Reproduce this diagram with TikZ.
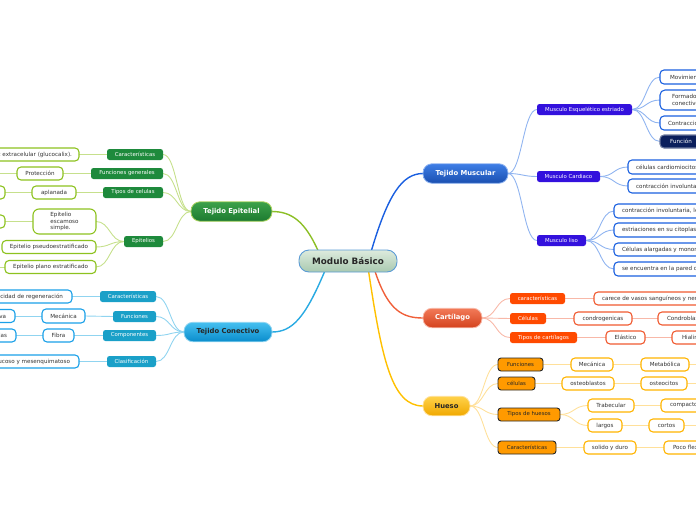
\documentclass[tikz,border=0pt]{standalone}
\usepackage{fontspec}
\setmainfont{DejaVu Sans}
\pgfdeclarelayer{bg}
\pgfsetlayers{bg,main}
\definecolor{rootborder}{HTML}{5B9BD5}
\definecolor{roottop}{HTML}{DDEBDD}
\definecolor{rootbot}{HTML}{A9C9B0}
\definecolor{epiTop}{HTML}{3DA24A}
\definecolor{epiBot}{HTML}{1C7A30}
\definecolor{epiL2}{HTML}{1E8A3C}
\definecolor{epiLeaf}{HTML}{8DC21F}
\definecolor{epiE1}{HTML}{8CBF26}
\definecolor{epiE2}{HTML}{C6E08C}
\definecolor{conTop}{HTML}{45C0F0}
\definecolor{conBot}{HTML}{0A8CCC}
\definecolor{conL2}{HTML}{1AA0C8}
\definecolor{conLeaf}{HTML}{1AA0E8}
\definecolor{conE1}{HTML}{29AAE2}
\definecolor{conE2}{HTML}{90D4F0}
\definecolor{musTop}{HTML}{3E7EE6}
\definecolor{musBot}{HTML}{1A4FB0}
\definecolor{musL2}{HTML}{3311DD}
\definecolor{musLeaf}{HTML}{1A60E0}
\definecolor{musDark}{HTML}{0B1F5C}
\definecolor{musE1}{HTML}{1A5FE0}
\definecolor{musE2}{HTML}{90B4F0}
\definecolor{carTop}{HTML}{F27A58}
\definecolor{carBot}{HTML}{D4421E}
\definecolor{carL2}{HTML}{FF4A00}
\definecolor{carLeaf}{HTML}{F05A30}
\definecolor{carE1}{HTML}{F0603A}
\definecolor{carE2}{HTML}{F8B8A8}
\definecolor{hueTop}{HTML}{FFD24A}
\definecolor{hueBot}{HTML}{F0A800}
\definecolor{hueL2}{HTML}{FF9A00}
\definecolor{hueLeaf}{HTML}{FFB400}
\definecolor{hueE1}{HTML}{FFC000}
\definecolor{hueE2}{HTML}{FFE09A}
\definecolor{txt}{HTML}{333333}
\newcommand\smallfs{\fontsize{5.4}{6.5}\selectfont}
\newcommand\leaffs{\fontsize{5.6}{6.6}\selectfont}
\newcommand\mmR[2]{\draw (#1.east) .. controls +(14,0) and +(-14,0) .. (#2.west);}
\newcommand\mmL[2]{\draw (#1.west) .. controls +(-14,0) and +(14,0) .. (#2.east);}
\begin{document}
\begin{tikzpicture}[x=1pt,y=-1pt,
  every node/.style={inner sep=0pt, outer sep=0pt},
  rootbox/.style={rounded corners=10pt, minimum width=98pt, minimum height=22pt, draw=rootborder, line width=0.9pt, top color=roottop, bottom color=rootbot, text=black!85, font=\bfseries\fontsize{8.8}{10}\selectfont},
  lone/.style={rounded corners=9pt, minimum height=19.5pt, line width=0.8pt, font=\bfseries\fontsize{6.8}{8}\selectfont},
  ltwo/.style={rounded corners=2.5pt, minimum height=11pt, font=\smallfs, text=white},
  leaf/.style={rounded corners=4pt, minimum height=13pt, fill=white, line width=1.1pt, font=\leaffs, text=txt, inner xsep=6pt},
  e1/.style={line width=1.4pt},
  e2/.style={line width=0.9pt}]
\useasboundingbox (0,0) rectangle (696,520);
\clip (0,0) rectangle (696,520);

% ---------- root ----------
\node[rootbox] (root) at (348,261) {Modulo Básico};

% ---------- level 1 ----------
\node[lone, minimum width=81pt, draw=epiLeaf!70, top color=epiTop, bottom color=epiBot, text=white] (tep) at (231.5,211.5) {Tejido Epitelial};
\node[lone, minimum width=88pt, draw=conE2, top color=conTop, bottom color=conBot, text=black!85] (tco) at (228,332) {Tejido Conectivo};
\node[lone, minimum width=85pt, draw=musE2, top color=musTop, bottom color=musBot, text=white] (tmu) at (465.5,173.5) {Tejido Muscular};
\node[lone, minimum width=59pt, draw=carE2, top color=carTop, bottom color=carBot, text=white] (car) at (452.5,318) {Cartílago};
\node[lone, minimum width=47pt, draw=hueE2, top color=hueTop, bottom color=hueBot, text=black!85] (hue) at (446.5,406) {Hueso};

% ---------- Epitelial ----------
\node[ltwo, fill=epiL2, minimum width=56pt] (e1) at (135,154.5) {Características};
\node[ltwo, fill=epiL2, minimum width=72pt] (e2) at (127,173.5) {Funciones generales};
\node[ltwo, fill=epiL2, minimum width=60pt] (e3) at (133,192.5) {Tipos de celulas};
\node[ltwo, fill=epiL2, minimum width=39pt] (e4) at (143.5,241.5) {Epitelios};
\node[leaf, draw=epiLeaf, anchor=east, inner xsep=7pt] (e1a) at (79,154.5) {Matriz extracelular (glucocalix).};
\node[leaf, draw=epiLeaf, minimum width=46pt] (e2a) at (40,173.5) {Protección};
\coordinate (e2b) at (-3,173.5);
\node[leaf, draw=epiLeaf, minimum width=44pt] (e3a) at (54,192.5) {aplanada};
\node[leaf, draw=epiLeaf, minimum width=30pt, anchor=east] (e3b) at (5,192.5) {};
\node[leaf, draw=epiLeaf, minimum width=63pt, minimum height=25pt, rounded corners=6pt, align=left] (e4a) at (64.5,221.5) {Epitelio\\escamoso\\simple.};
\node[leaf, draw=epiLeaf, minimum width=30pt, anchor=east] (e4b) at (5,221.5) {};
\node[leaf, draw=epiLeaf, minimum width=94pt] (e4c) at (49,247) {Epitelio pseudoestratificado};
\node[leaf, draw=epiLeaf, minimum width=91pt] (e4d) at (50.5,267) {Epitelio plano estratificado};
\coordinate (e4e) at (-3,267);

% ---------- Conectivo ----------
\node[ltwo, fill=conL2, minimum width=56pt] (c1) at (128,296.5) {Características};
\node[ltwo, fill=conL2, minimum width=43pt] (c2) at (134.5,316.5) {Funciones};
\node[ltwo, fill=conL2, minimum width=53pt] (c3) at (129.5,335.5) {Componentes};
\node[ltwo, fill=conL2, minimum width=49pt] (c4) at (131.5,361.5) {Clasificación};
\node[leaf, draw=conLeaf, anchor=east, inner xsep=9pt] (c1a) at (72,296.5) {Capacidad de regeneración};
\node[leaf, draw=conLeaf, minimum width=43pt, minimum height=14pt] (c2a) at (63.5,316) {Mecánica};
\node[leaf, draw=conLeaf, anchor=east, inner xsep=9pt] (c2b) at (15,316) {Defensiva};
\node[leaf, draw=conLeaf, minimum width=31pt] (c3a) at (58.5,335.5) {Fibra};
\node[leaf, draw=conLeaf, anchor=east, inner xsep=9pt] (c3b) at (16,335.5) {Células};
\node[leaf, draw=conLeaf, anchor=east, inner xsep=9pt] (c4a) at (79,361.5) {Mucoso y mesenquimatoso};

% ---------- Muscular ----------
\node[ltwo, fill=musL2, minimum width=95pt] (m1) at (584.5,109.5) {Musculo Esquelético estriado};
\node[ltwo, fill=musL2, minimum width=63pt] (m2) at (568.5,176.5) {Musculo Cardiaco};
\node[ltwo, fill=musL2, minimum width=49pt] (m3) at (561.5,240.5) {Musculo liso};
\node[leaf, draw=musLeaf, anchor=west, minimum height=14pt, inner xsep=10pt] (m1a) at (660,77) {Movimiento};
\node[leaf, draw=musLeaf, anchor=west, minimum height=20pt, inner xsep=12pt, align=left, rounded corners=5pt] (m1b) at (660,100) {Formado por tejido\\conectivo};
\node[leaf, draw=musLeaf, anchor=west, minimum height=14pt, inner xsep=8pt] (m1c) at (660,123) {Contracción};
\node[leaf, draw=musDark!60, fill=musDark, text=white, anchor=west, minimum width=42pt] (m1d) at (660,141.5) {Función};
\node[leaf, draw=musLeaf, anchor=west, minimum height=14pt, inner xsep=8pt] (m2a) at (628,167) {células cardiomiocitos};
\node[leaf, draw=musLeaf, anchor=west, minimum height=14pt, inner xsep=8pt] (m2b) at (628,186) {contracción involuntaria};
\node[leaf, draw=musLeaf, anchor=west, minimum height=14pt, inner xsep=8pt] (m3a) at (614,211) {contracción involuntaria, lenta};
\node[leaf, draw=musLeaf, anchor=west, minimum height=14pt, inner xsep=8pt] (m3b) at (614,230) {estriaciones en su citoplasma};
\node[leaf, draw=musLeaf, anchor=west, minimum height=13pt, inner xsep=8pt] (m3c) at (614,249.5) {Células alargadas y mononucleares};
\node[leaf, draw=musLeaf, anchor=west, minimum height=14pt, inner xsep=8pt] (m3d) at (614,269) {se encuentra en la pared de órganos};

% ---------- Cartilago ----------
\node[ltwo, fill=carL2, minimum width=55pt] (k1) at (537.5,298.5) {características};
\node[ltwo, fill=carL2, minimum width=36pt] (k2) at (528,318.5) {Células};
\node[ltwo, fill=carL2, minimum width=67pt] (k3) at (543.5,337.5) {Tipos de cartílagos};
\node[leaf, draw=carLeaf, anchor=west, inner xsep=8pt] (k1a) at (594,298.5) {carece de vasos sanguíneos y nervios};
\node[leaf, draw=carLeaf, minimum width=58pt] (k2a) at (603,318.5) {condrogenicas};
\node[leaf, draw=carLeaf, anchor=west, inner xsep=9pt] (k2b) at (658,318.5) {Condroblastos};
\node[leaf, draw=carLeaf, minimum width=39pt] (k3a) at (625.5,337.5) {Elástico};
\node[leaf, draw=carLeaf, anchor=west, inner xsep=10pt] (k3b) at (672,337.5) {Hialino};

% ---------- Hueso ----------
\tikzset{hl2/.style={ltwo, fill=hueL2, draw=black!85, line width=0.9pt, minimum height=13pt, rounded corners=3pt, text=black!85}}
\node[hl2, minimum width=45pt] (h1) at (520.5,364.5) {Funciones};
\node[hl2, minimum width=37pt] (h2) at (516.5,383.5) {células};
\node[hl2, minimum width=62pt] (h3) at (529,414.5) {Tipos de huesos};
\node[hl2, minimum width=58pt] (h4) at (527,447.5) {Características};
\node[leaf, draw=hueLeaf, minimum width=42pt] (h1a) at (592,364.5) {Mecánica};
\node[leaf, draw=hueLeaf, minimum width=48pt] (h1b) at (665,364.5) {Metabólica};
\coordinate (h1c) at (699,364.5);
\node[leaf, draw=hueLeaf, minimum width=52pt] (h2a) at (588,383.5) {osteoblastos};
\node[leaf, draw=hueLeaf, minimum width=46pt] (h2b) at (664,383.5) {osteocitos};
\coordinate (h2c) at (699,383.5);
\node[leaf, draw=hueLeaf, minimum width=46pt] (h3a) at (611,405.5) {Trabecular};
\node[leaf, draw=hueLeaf, anchor=west, inner xsep=9pt] (h3b) at (661,405.5) {compacto};
\node[leaf, draw=hueLeaf, minimum width=34pt] (h3c) at (605,425.5) {largos};
\node[leaf, draw=hueLeaf, minimum width=35pt] (h3d) at (666.5,425.5) {cortos};
\coordinate (h3e) at (699,425.5);
\node[leaf, draw=hueLeaf, minimum width=52pt] (h4a) at (610,447.5) {solido y duro};
\node[leaf, draw=hueLeaf, anchor=west, inner xsep=9pt] (h4b) at (664,447.5) {Poco flexible};

% ---------- connectors ----------
\begin{pgfonlayer}{bg}
\draw[e1, epiE1] (root.160) .. controls (305,222) and (292,211.5) .. (tep.east);
\draw[e1, conE1] (root.205) .. controls (305,318) and (292,332) .. (tco.east);
\draw[e1, musE1] (root.25) .. controls (388,195) and (402,173.5) .. (tmu.west);
\draw[e1, carE1] (root.338) .. controls (388,310) and (402,318) .. (car.west);
\draw[e1, hueE1] (root.332) .. controls (382,360) and (392,406) .. (hue.west);

\begin{scope}[e2, epiE2]
\mmL{tep}{e1} \mmL{tep}{e2} \mmL{tep}{e3} \mmL{tep}{e4}
\mmL{e1}{e1a} \mmL{e2}{e2a} \mmL{e3}{e3a} \mmL{e3a}{e3b}
\mmL{e4}{e4a} \mmL{e4}{e4c} \mmL{e4}{e4d} \mmL{e4a}{e4b}
\draw (e2a.west) -- (e2b);
\draw (e4d.west) -- (e4e);
\end{scope}

\begin{scope}[e2, conE2]
\mmL{tco}{c1} \mmL{tco}{c2} \mmL{tco}{c3} \mmL{tco}{c4}
\mmL{c1}{c1a} \mmL{c2}{c2a} \mmL{c2a}{c2b} \mmL{c3}{c3a} \mmL{c3a}{c3b} \mmL{c4}{c4a}
\end{scope}

\begin{scope}[e2, musE2]
\mmR{tmu}{m1} \mmR{tmu}{m2} \mmR{tmu}{m3}
\mmR{m1}{m1a} \mmR{m1}{m1b} \mmR{m1}{m1c} \mmR{m1}{m1d}
\mmR{m2}{m2a} \mmR{m2}{m2b}
\mmR{m3}{m3a} \mmR{m3}{m3b} \mmR{m3}{m3c} \mmR{m3}{m3d}
\end{scope}

\begin{scope}[e2, carE2]
\mmR{car}{k1} \mmR{car}{k2} \mmR{car}{k3}
\mmR{k1}{k1a} \mmR{k2}{k2a} \mmR{k2a}{k2b} \mmR{k3}{k3a} \mmR{k3a}{k3b}
\end{scope}

\begin{scope}[e2, hueE2]
\mmR{hue}{h1} \mmR{hue}{h2} \mmR{hue}{h3} \mmR{hue}{h4}
\mmR{h1}{h1a} \mmR{h1a}{h1b} \mmR{h2}{h2a} \mmR{h2a}{h2b}
\mmR{h3}{h3a} \mmR{h3}{h3c} \mmR{h3a}{h3b} \mmR{h3c}{h3d}
\mmR{h4}{h4a} \mmR{h4a}{h4b}
\draw (h1b.east) -- (h1c);
\draw (h2b.east) -- (h2c);
\draw (h3d.east) -- (h3e);
\end{scope}
\end{pgfonlayer}
\end{tikzpicture}
\end{document}
